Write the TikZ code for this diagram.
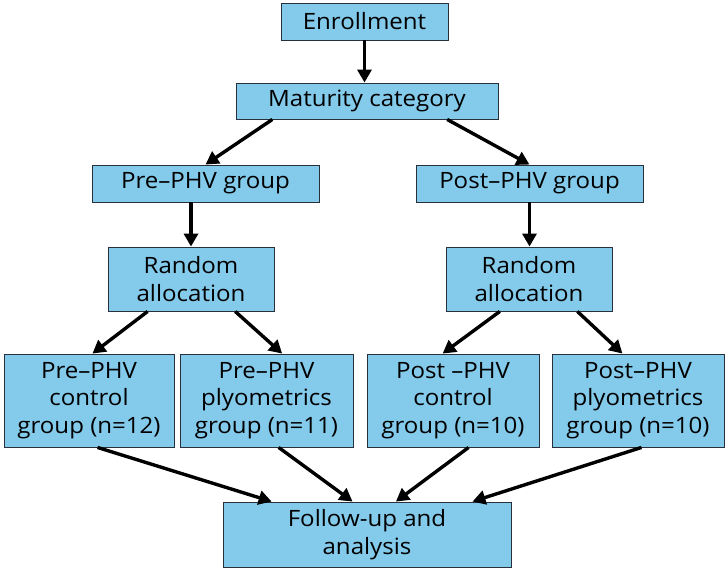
\documentclass[tikz,border=0pt]{standalone}
\usepackage{fontspec}
\setmainfont{Open Sans}[FakeStretch=1.07]
\usepackage{tikz}
\usetikzlibrary{arrows.meta, calc}
\definecolor{boxblue}{RGB}{131,202,235}
\definecolor{boxline}{RGB}{40,48,60}
\definecolor{mydark}{RGB}{0,0,0}
\tikzset{
  box/.style={rectangle, draw=boxline, fill=boxblue, align=center,
    inner sep=0pt, line width=0.9pt, font=\fontsize{22.5}{27.5}\selectfont},
  arrow/.style={-{Triangle[length=13pt, width=14pt]}, line width=3.4pt, color=mydark}
}
\begin{document}
\begin{tikzpicture}[x=1pt, y=-1pt]
  \useasboundingbox (0,0) rectangle (728,571);
  % top part
  \node[box, minimum width=167pt, minimum height=37pt] (enroll) at (364.5,21.5) {Enrollment};
  \node[box, minimum width=262pt, minimum height=36pt] (matur) at (367,101) {Maturity category};
  \node[box, minimum width=227pt, minimum height=37pt] (pregrp) at (205.5,183.5) {Pre–PHV group};
  \node[box, minimum width=227pt, minimum height=37pt] (postgrp) at (529.5,183.5) {Post–PHV group};
  \node[box, minimum width=166pt, minimum height=64pt] (randL) at (191,279) {Random\\allocation};
  \node[box, minimum width=166pt, minimum height=64pt] (randR) at (529,279) {Random\\allocation};
  % groups
  \node[box, minimum width=170pt, minimum height=93pt] (preC) at (89,400.5) {Pre–PHV\\control\\group (n=12)};
  \node[box, minimum width=173pt, minimum height=93pt] (preP) at (266.5,400.5) {Pre–PHV\\plyometrics\\group (n=11)};
  \node[box, minimum width=172pt, minimum height=93pt] (postC) at (453,400.5) {Post –PHV\\control\\group (n=10)};
  \node[box, minimum width=172pt, minimum height=93pt] (postP) at (638,400.5) {Post–PHV\\plyometrics\\group (n=10)};
  \node[box, minimum width=288pt, minimum height=65pt] (follow) at (367,534.5) {Follow-up and\\analysis};

  \draw[arrow] (enroll.south) -- (enroll.south |- matur.north);
  \draw[arrow] ($(matur.south west)!0.14!(matur.south east)$) -- (pregrp.north);
  \draw[arrow] ($(matur.south west)!0.805!(matur.south east)$) -- (postgrp.north);
  \draw[arrow] (randL.north |- pregrp.south) -- (randL.north);
  \draw[arrow] (postgrp.south) -- (postgrp.south |- randR.north);
  \draw[arrow] ($(randL.south west)!0.24!(randL.south east)$) -- ($(preC.north west)!0.52!(preC.north east)$);
  \draw[arrow] ($(randL.south west)!0.765!(randL.south east)$) -- ($(preP.north west)!0.59!(preP.north east)$);
  \draw[arrow] ($(randR.south west)!0.325!(randR.south east)$) -- ($(postC.north west)!0.44!(postC.north east)$);
  \draw[arrow] ($(randR.south west)!0.79!(randR.south east)$) -- ($(postP.north west)!0.41!(postP.north east)$);
  % into follow-up
  \foreach \src/\a/\b in {preC/0.55/0.17, preP/0.57/0.45, postC/0.59/0.60, postP/0.52/0.865}
    \draw[arrow] ($(\src.south west)!\a!(\src.south east)$) -- ($(follow.north west)!\b!(follow.north east)$);
\end{tikzpicture}
\end{document}
